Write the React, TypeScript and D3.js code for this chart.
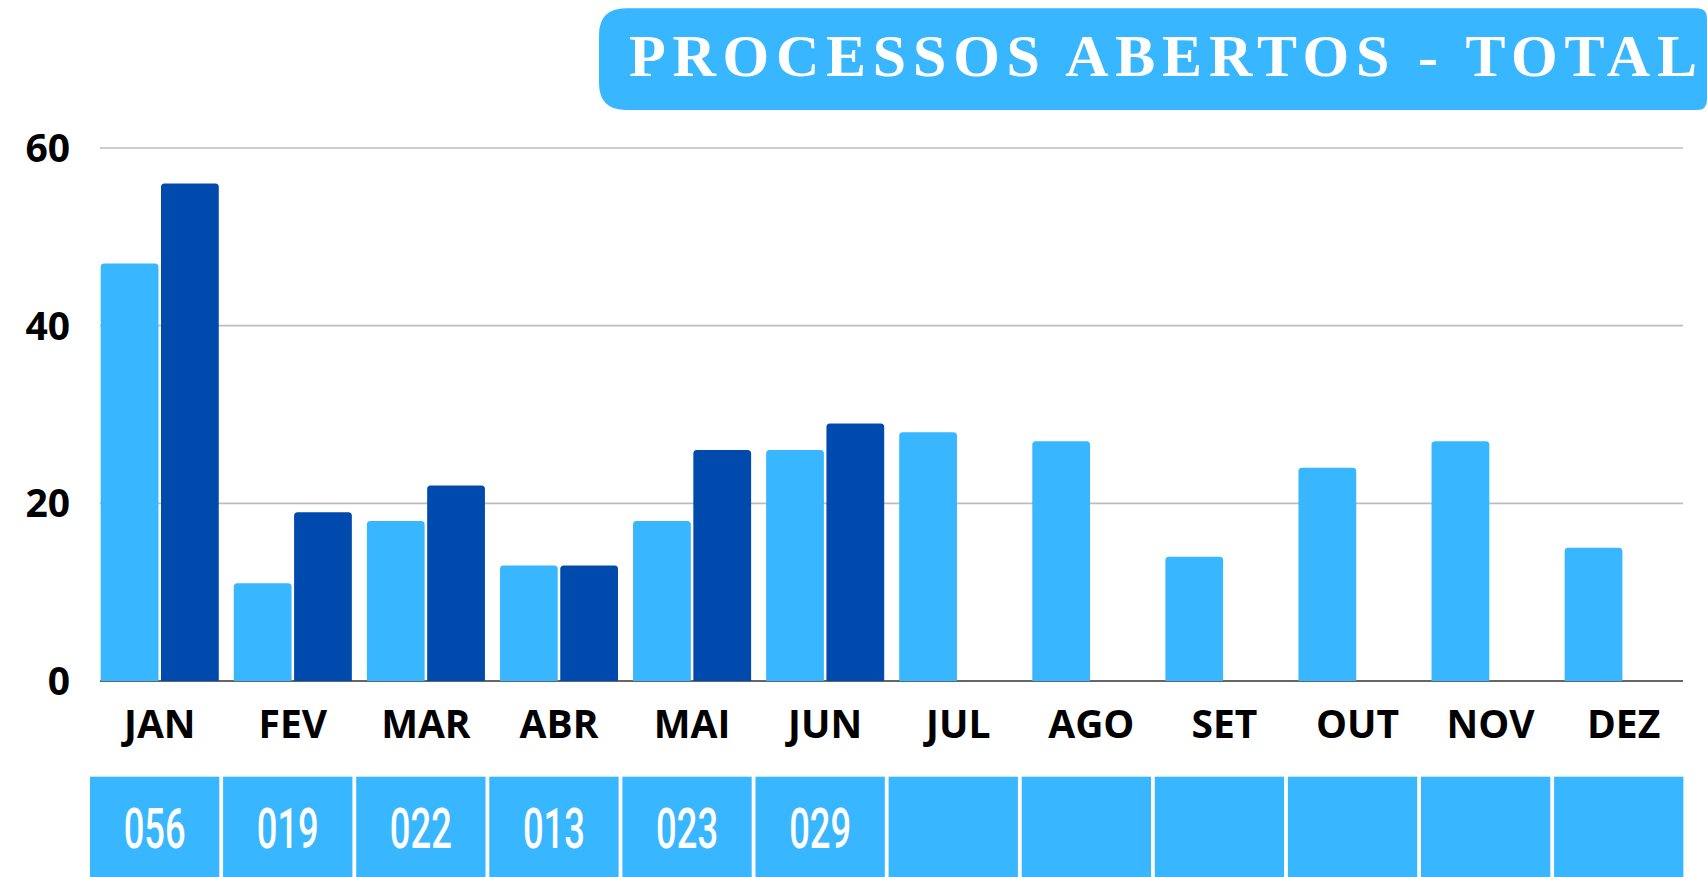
import React, { useEffect } from "react";
import * as d3 from "d3";

const months = ["JAN", "FEV", "MAR", "ABR", "MAI", "JUN", "JUL", "AGO", "SET", "OUT", "NOV", "DEZ"];
const seriesKeys = ["anterior", "atual"];
const valuesAnterior = [47, 11, 18, 13, 18, 26, 28, 27, 14, 24, 27, 15];
const valuesAtual: (number | null)[] = [56, 19, 22, 13, 26, 29, null, null, null, null, null, null];
const totals = ["056", "019", "022", "013", "023", "029", "", "", "", "", "", ""];
const yTicks = [0, 20, 40, 60];
const title = "PROCESSOS ABERTOS - TOTAL";

const LIGHT = "#38B6FF";
const DARK = "#004AAD";

function topRoundedRect(x: number, y: number, w: number, h: number, r: number) {
  const rr = Math.min(r, w / 2, h);
  return `M${x},${y + h}V${y + rr}Q${x},${y} ${x + rr},${y}H${x + w - rr}Q${x + w},${y} ${x + w},${y + rr}V${y + h}Z`;
}

export default function App() {
  useEffect(() => {
    document.body.style.margin = "0";
    document.body.style.overflow = "hidden";
  }, []);

  const W = 1707;
  const H = 877;

  const x = d3.scaleBand<string>().domain(months).range([100.7, 1682.7]).paddingInner(0.1128).paddingOuter(0);
  const xs = d3.scaleBand<string>().domain(seriesKeys).range([0, x.bandwidth()]).paddingInner(0.042).paddingOuter(0);
  const y = d3.scaleLinear().domain([0, 60]).range([681, 148]);
  const xb = d3.scaleBand<string>().domain(months).range([90, 1683.4]).paddingInner(0.0286).paddingOuter(0);

  const bars: { key: string; month: string; v: number; color: string }[] = [];
  months.forEach((m, i) => {
    bars.push({ key: "a" + i, month: m, v: valuesAnterior[i], color: LIGHT });
    const v2 = valuesAtual[i];
    if (v2 != null) bars.push({ key: "b" + i, month: m, v: v2, color: DARK });
  });

  const boxX0 = 599;
  const boxX1 = 1707;
  const boxY0 = 8.3;
  const boxY1 = 110;
  const rl = 27;
  const rr = 10;
  const titlePath = `M${boxX0 + rl},${boxY0}H${boxX1 - rr}Q${boxX1},${boxY0} ${boxX1},${boxY0 + rr}V${boxY1 - rr}Q${boxX1},${boxY1} ${boxX1 - rr},${boxY1}H${boxX0 + rl}Q${boxX0},${boxY1} ${boxX0},${boxY1 - rl}V${boxY0 + rl}Q${boxX0},${boxY0} ${boxX0 + rl},${boxY0}Z`;

  return (
    <svg width={W} height={H} style={{ position: "absolute", left: 0, top: 0, background: "#fff" }}>
      {/* title */}
      <path d={titlePath} fill={LIGHT} />
      <text
        x={629}
        y={76}
        fill="#fff"
        fontFamily="'Liberation Serif', 'DejaVu Serif', serif"
        fontWeight="bold"
        fontSize={60}
        textLength={1068}
        lengthAdjust="spacing"
      >
        {title}
      </text>

      {/* gridlines */}
      {yTicks.filter((t) => t !== 0).map((t) => (
        <line key={t} x1={100} x2={1683} y1={y(t)} y2={y(t)} stroke="#bdbdbd" strokeWidth={1.6} />
      ))}
      {/* y labels */}
      {yTicks.map((t) => (
        <text
          key={"l" + t}
          x={70}
          y={y(t)}
          dy="0.36em"
          textAnchor="end"
          fontFamily="'Open Sans', sans-serif"
          fontWeight="bold"
          fontSize={39}
          fill="#000"
        >
          {t}
        </text>
      ))}

      {/* baseline */}
      <line x1={100} x2={1683} y1={y(0)} y2={y(0)} stroke="#666" strokeWidth={2.2} />

      {/* bars */}
      {bars.map((b) => {
        const bx = (x(b.month) as number) + (xs(b.key.startsWith("a") ? "anterior" : "atual") as number);
        const by = y(b.v);
        return <path key={b.key} d={topRoundedRect(bx, by, xs.bandwidth(), y(0) - by, 3.5)} fill={b.color} />;
      })}

      {/* month labels */}
      {months.map((m) => (
        <text
          key={"m" + m}
          x={(x(m) as number) + x.bandwidth() / 2}
          y={738}
          textAnchor="middle"
          fontFamily="'Open Sans', sans-serif"
          fontWeight="bold"
          fontSize={39}
          fill="#000"
        >
          {m}
        </text>
      ))}

      {/* total boxes */}
      {months.map((m, i) => (
        <g key={"b" + m}>
          <rect x={xb(m) as number} y={776.7} width={xb.bandwidth()} height={H - 776.7 + 5} fill={LIGHT} />
          {totals[i] !== "" && (
            <text
              x={(xb(m) as number) + xb.bandwidth() / 2}
              y={847.7}
              textAnchor="middle"
              fontFamily="Roboto, sans-serif"
              fontWeight={500}
              fontSize={55}
              fill="#fff"
              textLength={62}
              lengthAdjust="spacingAndGlyphs"
            >
              {totals[i]}
            </text>
          )}
        </g>
      ))}
    </svg>
  );
}
